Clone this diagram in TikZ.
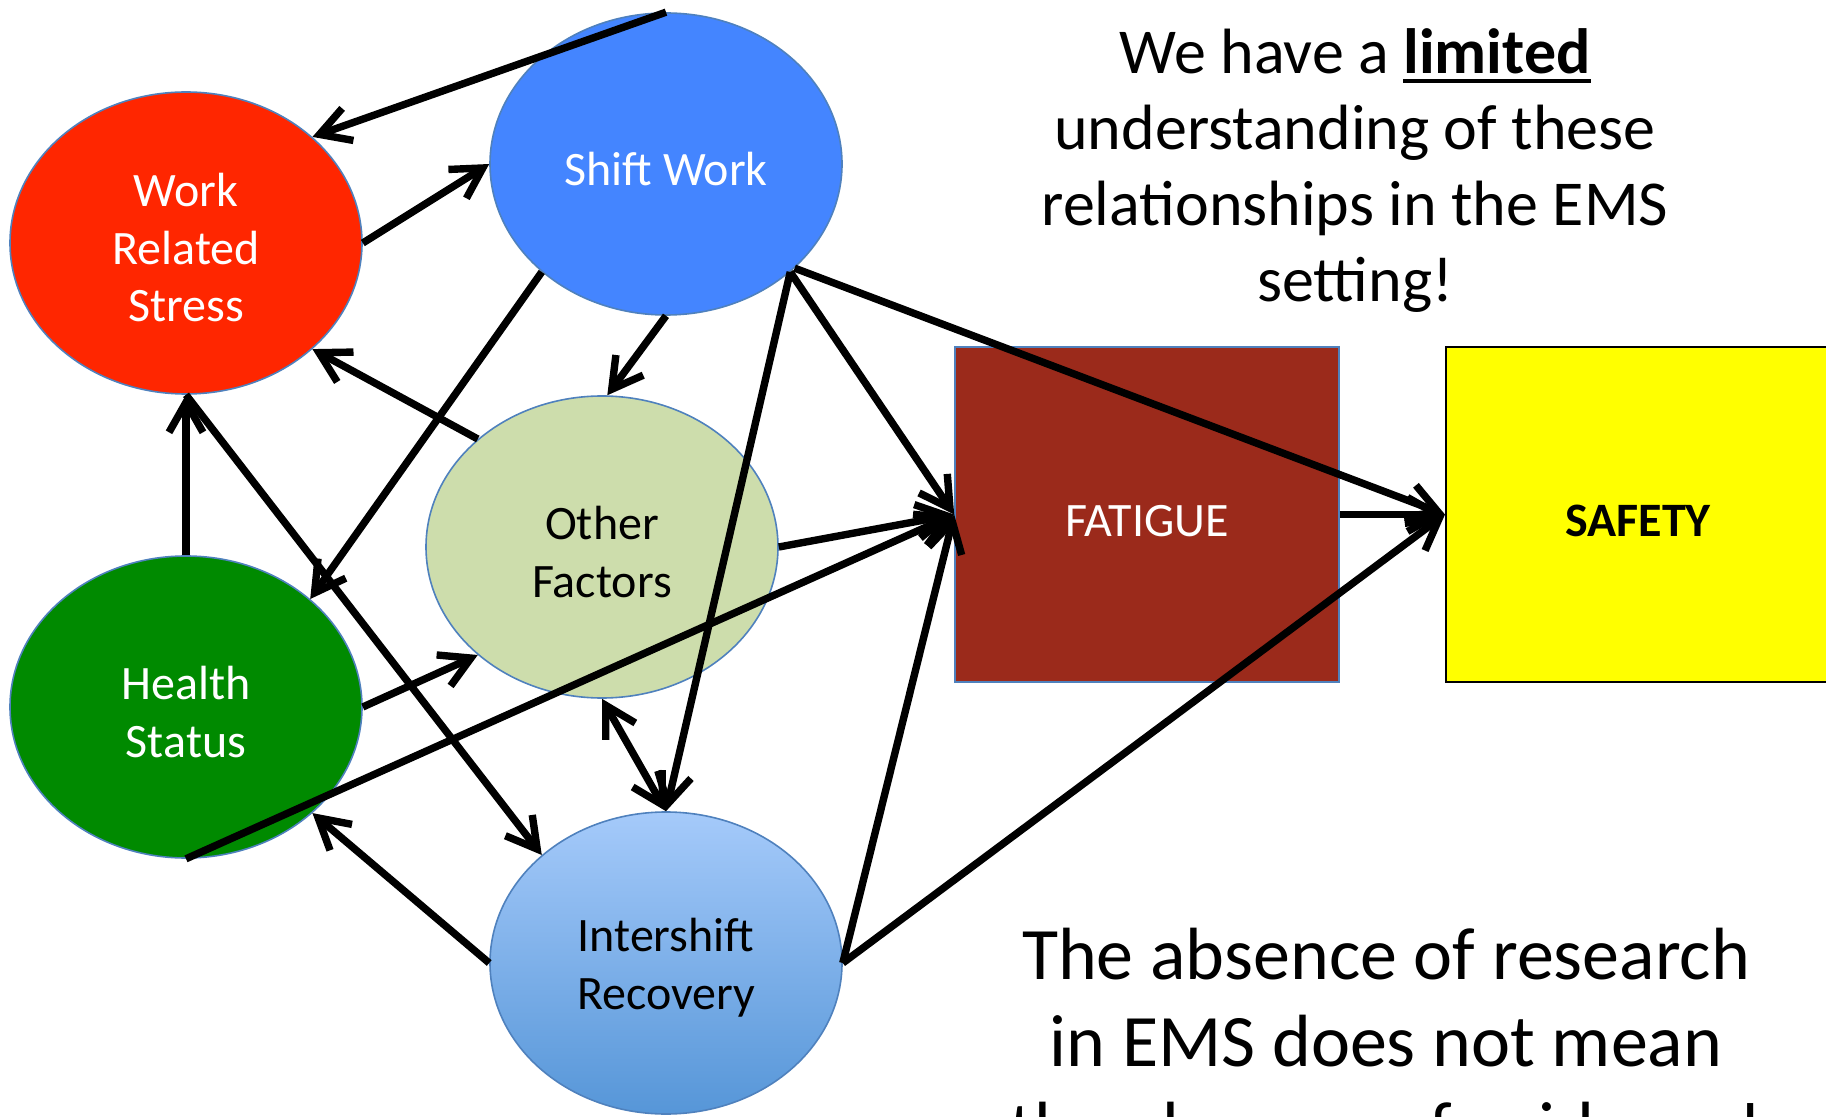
\documentclass[tikz,border=0pt]{standalone}
\usepackage{fontspec}
\setmainfont{Carlito}
\usetikzlibrary{shapes.geometric,arrows.meta}

\definecolor{stressred}{RGB}{255,38,0}
\definecolor{shiftblue}{RGB}{68,133,255}
\definecolor{othergreen}{RGB}{205,221,172}
\definecolor{healthgreen}{RGB}{0,138,0}
\definecolor{recovtop}{RGB}{165,202,250}
\definecolor{recovbot}{RGB}{86,150,216}
\definecolor{fatiguered}{RGB}{155,42,27}
\definecolor{safetyyellow}{RGB}{255,255,0}
\definecolor{edgeblue}{RGB}{79,129,189}

\newcommand{\ulword}[1]{\vtop{\hbox{#1}\kern2.5pt\hrule height 1.8pt}}
\newcommand{\lift}[1]{\rule{0pt}{#1}}

\tikzset{barb/.tip={Straight Barb[length=15pt,width=17pt]}}

\begin{document}
\begin{tikzpicture}[x=0.5pt,y=-0.5pt,
    bubble/.style={ellipse, draw=edgeblue, line width=0.8pt, minimum width=176pt, minimum height=151pt,
        inner sep=0pt, align=center, font=\fontsize{24}{28.8}\selectfont},
    block/.style={rectangle, minimum width=192pt, minimum height=167.5pt, inner sep=0pt},
    link/.style={line width=3.7pt, -barb},
    claim/.style={font=\fontsize{32}{38}\selectfont, anchor=base, inner sep=0pt},
    remark/.style={font=\fontsize{37}{44}\selectfont, anchor=base, inner sep=0pt}]
    \useasboundingbox (0,0) rectangle (1826,1117);

    % factors
    \node[bubble, fill=stressred, text=white] (stress) at (186,243) {\lift{21.5pt}Work\\Related\\Stress};
    \node[bubble, fill=shiftblue, text=white] (shift) at (666,164) {\lift{21.5pt}Shift Work};
    \node[bubble, fill=othergreen] (other) at (602,547) {\lift{21.5pt}Other\\Factors};
    \node[bubble, fill=healthgreen, text=white] (health) at (186,707) {\lift{21.5pt}Health\\Status};
    \node[bubble, top color=recovtop, bottom color=recovbot] (recov) at (666,963) {\lift{21.5pt}Intershift\\Recovery};

    % outcomes
    \node[block, fill=fatiguered, draw=edgeblue, line width=0.8pt, text=white,
        font=\fontsize{24}{28.8}\selectfont] (fatigue) at (1147,514.5) {\lift{22.5pt}FATIGUE};
    \node[block, fill=safetyyellow, draw=black, line width=1pt,
        font=\fontsize{24}{28.8}\selectfont\bfseries] (safety) at (1638,514.5) {\lift{22.5pt}SAFETY};

    \foreach \a/\b in {shift.90/stress.40, stress.0/shift.180, shift.221/health.41, shift.270/other.88,
        shift.-41/recov.90, shift.-41/fatigue.west, shift.-39/safety.west, other.139/stress.-40,
        health.90/stress.270, stress.270/recov.139, health.0/other.221, health.270/fatigue.west,
        other.0/fatigue.west, recov.180/health.-40, recov.0/fatigue.west, recov.0/safety.west,
        fatigue.east/safety.west}
        \draw[link] (\a) -- (\b);
    \draw[link, barb-barb] (other.270) -- (recov.90);

    % side texts
    \foreach \y/\t [count=\i] in {74/We have a \ulword{\textbf{limited}}, 150/understanding of these,
        226/relationships in the EMS, 302/setting!}
        \node[claim] (claim\i) at (1355,\y) {\t};
    \foreach \y/\t [count=\i] in {979/The absence of research, 1066/in EMS does not mean,
        1153/the absence of evidence!}
        \node[remark] (remark\i) at (1386,\y) {\t};
\end{tikzpicture}
\end{document}
